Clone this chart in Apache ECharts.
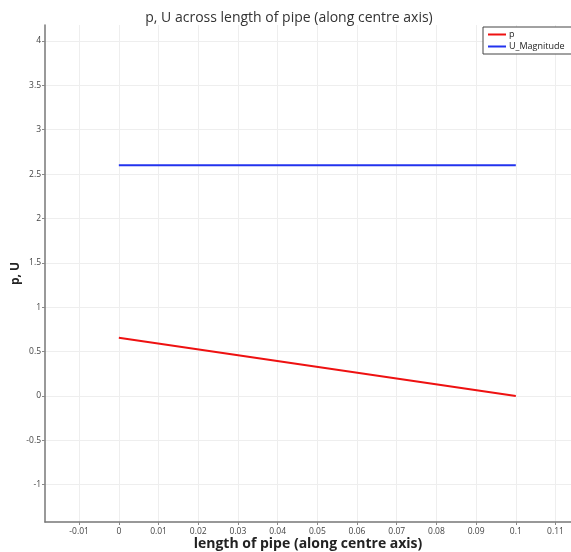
<!DOCTYPE html>
<html>
<head>
<meta charset="utf-8">
<style>
  html, body { margin: 0; padding: 0; background: #fff; }
  #chart { width: 571px; height: 552px; }
</style>
<script src="https://cdn.jsdelivr.net/npm/echarts@6/dist/echarts.min.js"></script>
</head>
<body>
<div id="chart"></div>
<script>
// Position along the pipe centre axis (m)
const positions = [0, 0.1];
// Pressure along the axis
const pValues = [0.655, 0];
// Velocity magnitude along the axis
const uValues = [2.6, 2.6];

// Tick positions shown on each axis
const xTicks = [-0.01, 0, 0.01, 0.02, 0.03, 0.04, 0.05, 0.06, 0.07, 0.08, 0.09, 0.1, 0.11];
const yTicks = [-1, -0.5, 0, 0.5, 1, 1.5, 2, 2.5, 3, 3.5, 4];

const fontFamily = '"Open Sans", Lato, sans-serif';
const pairs = (xs, ys) => xs.map((x, i) => [x, ys[i]]);

const chart = echarts.init(document.getElementById('chart'));
chart.setOption({
  animation: false,
  backgroundColor: '#ffffff',
  title: {
    text: 'p, U across length of pipe (along centre axis)',
    left: 284,
    textAlign: 'center',
    top: 6,
    textStyle: { fontFamily, fontSize: 14, fontWeight: 'normal', color: '#333' }
  },
  legend: {
    left: 483,
    top: 27,
    orient: 'vertical',
    itemGap: 3,
    itemWidth: 18,
    itemHeight: 2,
    padding: [3, 12, 3, 5],
    borderColor: '#444',
    borderWidth: 1,
    backgroundColor: '#fff',
    icon: 'rect',
    textStyle: { fontFamily, fontSize: 9, color: '#222', padding: [0, 0, 0, -2] },
    data: ['p', 'U_Magnitude']
  },
  grid: { left: 45, right: 0, top: 25, bottom: 30, containLabel: false, outerBoundsMode: 'none' },
  xAxis: {
    type: 'value',
    min: -0.0186,
    max: 0.1139,
    name: 'length of pipe (along centre axis)',
    nameLocation: 'middle',
    nameGap: 15,
    nameMoveOverlap: false,
    nameTextStyle: { fontFamily, fontSize: 14, fontWeight: 'bold', color: '#222' },
    axisLine: { show: true, onZero: false, lineStyle: { color: '#777', width: 1.5 } },
    axisTick: { show: true, length: 3, customValues: xTicks, lineStyle: { color: '#888' } },
    axisLabel: {
      customValues: xTicks,
      fontFamily, fontSize: 8.5, color: '#444', margin: 5,
      formatter: v => String(Math.round(v * 100) / 100)
    },
    splitLine: { show: true, lineStyle: { color: '#eeeeee', width: 1 } }
  },
  yAxis: {
    type: 'value',
    min: -1.42,
    max: 4.18,
    name: 'p, U',
    nameLocation: 'middle',
    nameGap: 23,
    nameMoveOverlap: false,
    nameRotate: 90,
    nameTextStyle: { fontFamily, fontSize: 12, fontWeight: 'bold', color: '#222' },
    axisLine: { show: true, onZero: false, lineStyle: { color: '#777', width: 1.5 } },
    axisTick: { show: true, length: 3, customValues: yTicks, lineStyle: { color: '#888' } },
    axisLabel: {
      customValues: yTicks,
      fontFamily, fontSize: 8.5, color: '#444', margin: 4,
      formatter: v => String(Math.round(v * 10) / 10)
    },
    splitLine: { show: true, lineStyle: { color: '#eeeeee', width: 1 } }
  },
  series: [
    {
      name: 'p',
      type: 'line',
      data: pairs(positions, pValues),
      symbol: 'none',
      lineStyle: { color: '#ee1111', width: 2 },
      itemStyle: { color: '#ee1111' }
    },
    {
      name: 'U_Magnitude',
      type: 'line',
      data: pairs(positions, uValues),
      symbol: 'none',
      lineStyle: { color: '#2233ee', width: 2 },
      itemStyle: { color: '#2233ee' }
    }
  ]
});
</script>
</body>
</html>
